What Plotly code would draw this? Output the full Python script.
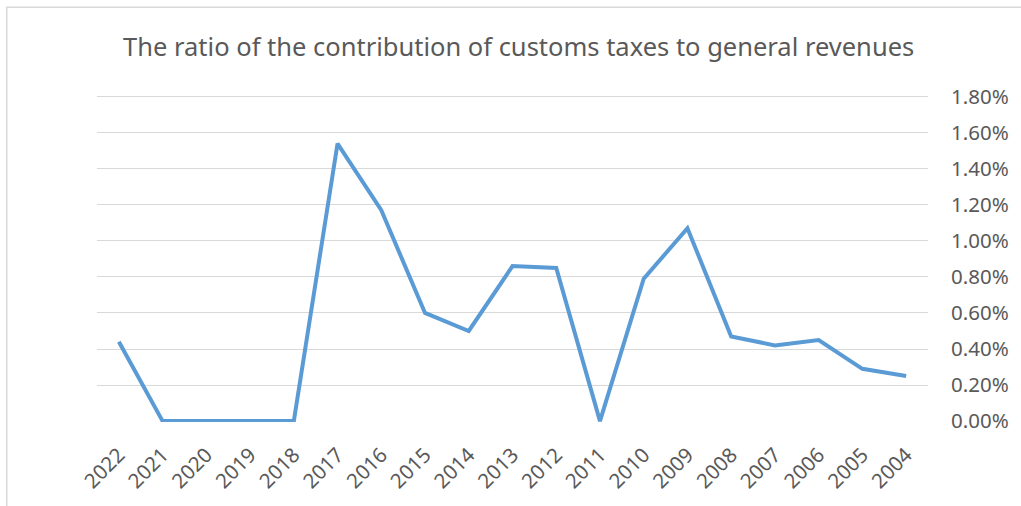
import plotly.graph_objects as go

years = ["2022", "2021", "2020", "2019", "2018", "2017", "2016", "2015", "2014", "2013",
         "2012", "2011", "2010", "2009", "2008", "2007", "2006", "2005", "2004"]
ratio = [0.0044, 0.0, 0.0, 0.0, 0.0, 0.0154, 0.0117, 0.0060, 0.0050, 0.0086,
         0.0085, 0.0, 0.0079, 0.0107, 0.0047, 0.0042, 0.0045, 0.0029, 0.0025]
y_ticks = [0.0, 0.002, 0.004, 0.006, 0.008, 0.010, 0.012, 0.014, 0.016, 0.018]
title_text = "The ratio of the contribution of customs taxes to general revenues"

W, H = 1021, 506
ml, mr, mt, mb = 97, 86, 94, 83
pw, ph = W - ml - mr, H - mt - mb

fig = go.Figure()
fig.add_trace(go.Scatter(
    x=years, y=ratio, mode="lines",
    line=dict(color="#5B9BD5", width=4),
    hoverinfo="x+y",
))

fig.update_layout(
    width=W, height=H,
    margin=dict(l=ml, r=mr, t=mt, b=mb),
    paper_bgcolor="white", plot_bgcolor="white",
    font=dict(family="Noto Sans", color="#595959"),
    showlegend=False,
    title=dict(text=title_text, x=0.508, xanchor="center", y=1 - 47 / H, yanchor="middle",
               font=dict(size=25.5, color="#595959", family="Noto Sans")),
    xaxis=dict(
        type="category", range=[-0.5, len(years) - 0.5], tickangle=-45,
        showgrid=False, zeroline=False, showline=False, ticks="",
        ticklabelstandoff=16, tickfont=dict(size=20.5, color="#595959"),
    ),
    yaxis=dict(
        range=[-0.00005, 0.01815], tickvals=y_ticks, tickformat=".2%", side="right",
        showgrid=True, gridcolor="#D9D9D9", gridwidth=1, zeroline=False,
        showline=False, ticks="", ticklabelstandoff=22,
        tickfont=dict(size=20.5, color="#595959"),
    ),
    shapes=[dict(
        type="rect", xref="paper", yref="paper",
        x0=(6 - ml) / pw, x1=(W + 20 - ml) / pw,
        y0=-(H + 20 - (mt + ph)) / ph, y1=(H - mb - 7) / ph,
        line=dict(color="#D9D9D9", width=1.5), layer="below",
    )],
)

fig.write_html("out.html")
